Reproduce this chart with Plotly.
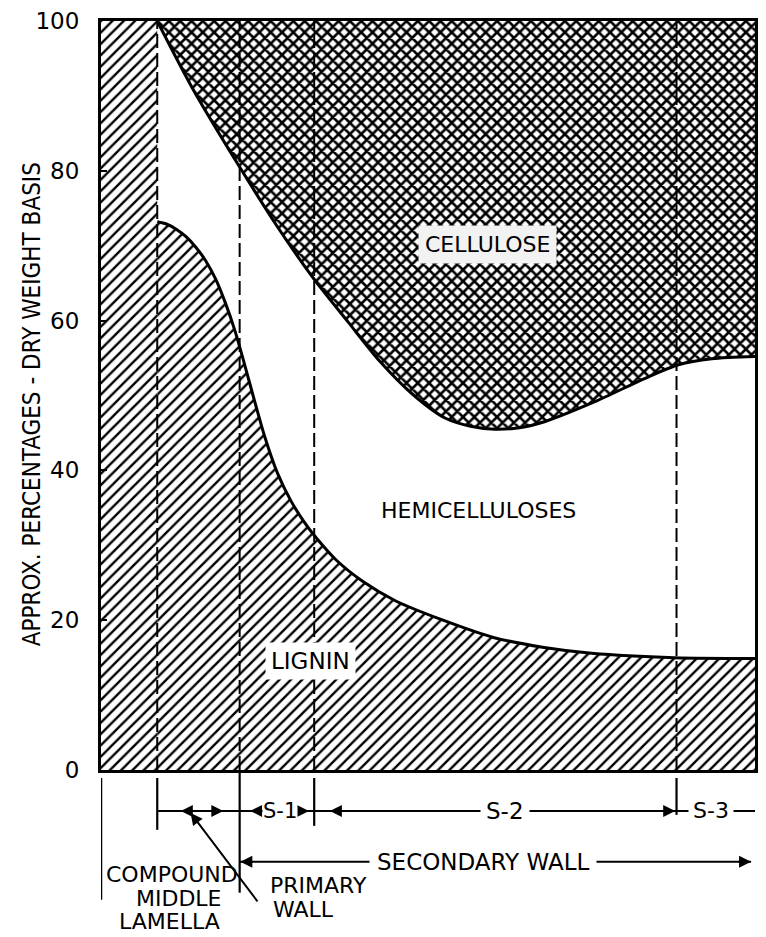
import plotly.graph_objects as go

# ---- data: composition across the wood cell wall (percent, dry weight) ----
# horizontal position is an arbitrary distance across the wall, 0..100
layer_bounds = [8.6, 21.2, 32.6, 88.0]   # CML | primary | S-1 | S-2 | S-3
wall_end = 100.0

lignin_x = [8.6, 10.0, 11.5, 13.0, 14.5, 16.0, 17.5, 19.0, 20.5, 22.0, 23.5, 25.0,
            27.0, 29.0, 31.0, 33.0, 36.0, 40.0, 45.0, 52.3, 60.0, 67.5, 75.0, 87.7, 100.0]
lignin_y = [73.2, 72.9, 72.2, 71.2, 69.8, 68.0, 65.6, 62.4, 58.6, 54.0, 49.2, 44.6,
            39.6, 36.0, 33.2, 30.9, 28.0, 25.2, 22.6, 20.0, 17.7, 16.4, 15.6, 15.0, 14.9]

# upper edge of hemicelluloses = lower edge of cellulose
cellulose_x = [8.6, 14.0, 21.2, 27.0, 32.6, 37.8, 42.7, 47.6, 52.6, 56.5, 60.2,
               64.0, 67.8, 75.6, 83.2, 88.3, 93.4, 100.0]
cellulose_y = [100.0, 91.0, 80.5, 72.5, 65.5, 59.8, 54.5, 50.2, 47.0, 45.9, 45.5,
               45.7, 46.5, 49.2, 52.3, 54.1, 54.9, 55.2]

y_ticks = [0, 20, 40, 60, 80, 100]

# ---- page geometry ----
W, H = 766, 937
ML, MR, MT, MB = 101, 8, 19, 167
PLOT_H = H - MT - MB
BASE = H - MB


def py(px):
    """page pixel row -> paper y"""
    return (BASE - px) / PLOT_H


FONT = "DejaVu Sans, Verdana, sans-serif"
NARROW = "Liberation Sans Narrow, DejaVu Sans Condensed, Roboto Condensed, Arial Narrow, DejaVu Sans, sans-serif"

hatch = dict(shape="/", size=8, solidity=0.3, fgcolor="black", bgcolor="white", fgopacity=1)
mesh = dict(shape="x", size=8, solidity=0.55, fgcolor="black", bgcolor="white", fgopacity=1)

fig = go.Figure()

# compound middle lamella: all lignin
fig.add_trace(go.Scatter(x=[0, layer_bounds[0]], y=[100, 100], mode="lines",
                         line=dict(width=0, color="rgba(0,0,0,0)"),
                         fill="tozeroy", fillcolor="white", fillpattern=hatch,
                         hoverinfo="skip", showlegend=False))
# lignin
fig.add_trace(go.Scatter(x=lignin_x, y=lignin_y, mode="lines",
                         line=dict(color="black", width=3, shape="spline", smoothing=0.8),
                         fill="tozeroy", fillcolor="white", fillpattern=hatch,
                         name="Lignin", showlegend=False))
# cellulose: filled from its lower edge up to 100 %
fig.add_trace(go.Scatter(x=[cellulose_x[0], wall_end], y=[100, 100], mode="lines",
                         line=dict(width=0, color="rgba(0,0,0,0)"),
                         hoverinfo="skip", showlegend=False))
fig.add_trace(go.Scatter(x=cellulose_x, y=cellulose_y, mode="lines",
                         line=dict(color="black", width=3, shape="spline", smoothing=0.8),
                         fill="tonexty", fillcolor="white", fillpattern=mesh,
                         name="Cellulose", showlegend=False))

shapes = []
# dashed layer boundaries
for xb in layer_bounds:
    shapes.append(dict(type="line", xref="x", yref="y", x0=xb, x1=xb, y0=0, y1=100,
                       line=dict(color="black", width=2, dash="14px,5px"), layer="above"))


def vline(x, top, bottom, width=2.2):
    shapes.append(dict(type="line", xref="x", yref="paper", x0=x, x1=x,
                       y0=py(top), y1=py(bottom), line=dict(color="black", width=width)))


def hline(x0, x1, row, width=2):
    shapes.append(dict(type="line", xref="x", yref="paper", x0=x0, x1=x1,
                       y0=py(row), y1=py(row), line=dict(color="black", width=width)))


# extension lines under the axis
vline(0, 778, 900, 2.5)
vline(layer_bounds[0], 778, 830)
vline(layer_bounds[1], 773, 893)
vline(layer_bounds[2], 778, 826)
vline(layer_bounds[3], 778, 815)

ROW1, ROW2 = 811, 862
hline(layer_bounds[0], wall_end, ROW1)
hline(layer_bounds[1], 99.4, ROW2)

annotations = []


def head(x, row, direction):
    # short arrow whose head sits at x, pointing left (-1) or right (+1)
    annotations.append(dict(x=x, y=py(row), xref="x", yref="paper", text="",
                            showarrow=True, ax=-direction * 14, ay=0,
                            axref="pixel", ayref="pixel", arrowhead=2,
                            arrowsize=1.2, arrowwidth=2, arrowcolor="black"))


def label(text, x, row, size=21, bg=None, xref="x", yref="paper", y=None, pad=1, font=FONT):
    annotations.append(dict(text=text, x=x, y=py(row) if y is None else y,
                            xref=xref, yref=yref, showarrow=False,
                            font=dict(family=font, size=size, color="black"),
                            bgcolor=bg, borderpad=pad, xanchor="center", yanchor="middle"))


head(12.2, ROW1, -1)
head(18.7, ROW1, +1)
head(22.8, ROW1, -1)
head(31.8, ROW1, +1)
head(35.0, ROW1, -1)
head(layer_bounds[3] - 0.2, ROW1, +1)
label("S-1", 27.3, ROW1, size=21, bg="white", pad=0)
label("S-2", 61.8, ROW1, size=23, bg="white", pad=5)
label("S-3", 93.2, ROW1, size=22, bg="white", pad=4)

head(layer_bounds[1] + 0.1, ROW2, -1)
head(99.4, ROW2, +1)
label("SECONDARY WALL", 58.4, ROW2, size=23, bg="white", pad=7)

# pointer from the primary wall caption up to the lamella dimension line
annotations.append(dict(x=13.7, y=py(813), xref="x", yref="paper", text="",
                        showarrow=True, ax=68, ay=90, axref="pixel", ayref="pixel",
                        arrowhead=2, arrowsize=1.2, arrowwidth=2, arrowcolor="black"))

label("COMPOUND", 10.8, 875, size=22)
label("MIDDLE", 12.0, 899, size=22)
label("LAMELLA", 10.5, 922, size=22)
label("PRIMARY", 33.3, 886, size=22)
label("WALL", 31.0, 910, size=22)

# region names
label("CELLULOSE", 59.1, None, size=22, bg="#f2f2f2", yref="y", y=70.2, pad=6)
label("HEMICELLULOSES", 57.7, None, size=22, yref="y", y=34.6)
label("LIGNIN", 32.1, None, size=23, bg="white", yref="y", y=14.6, pad=5)

# y-axis caption
annotations.append(dict(text="APPROX. PERCENTAGES - DRY WEIGHT BASIS",
                        x=(32 - ML) / (W - ML - MR), y=py(403), xref="paper", yref="paper",
                        textangle=-90, showarrow=False, xanchor="center", yanchor="middle",
                        font=dict(family=NARROW, size=24, color="black")))

fig.update_layout(
    width=W, height=H,
    margin=dict(l=ML, r=MR, t=MT, b=MB, pad=0),
    paper_bgcolor="white", plot_bgcolor="white",
    shapes=shapes, annotations=annotations,
    showlegend=False,
)
fig.update_xaxes(range=[0, wall_end], showgrid=False, zeroline=False, showticklabels=False,
                 ticks="", showline=True, mirror=True, linecolor="black", linewidth=3,
                 fixedrange=True)
fig.update_yaxes(range=[0, 100], tickvals=y_ticks, showgrid=False, zeroline=False,
                 ticks="inside", ticklen=6, tickwidth=2, tickcolor="black",
                 showline=True, mirror=True, linecolor="black", linewidth=3,
                 ticklabelstandoff=14,
                 tickfont=dict(family=FONT, size=23, color="black"), fixedrange=True)

fig.write_html("out.html")
